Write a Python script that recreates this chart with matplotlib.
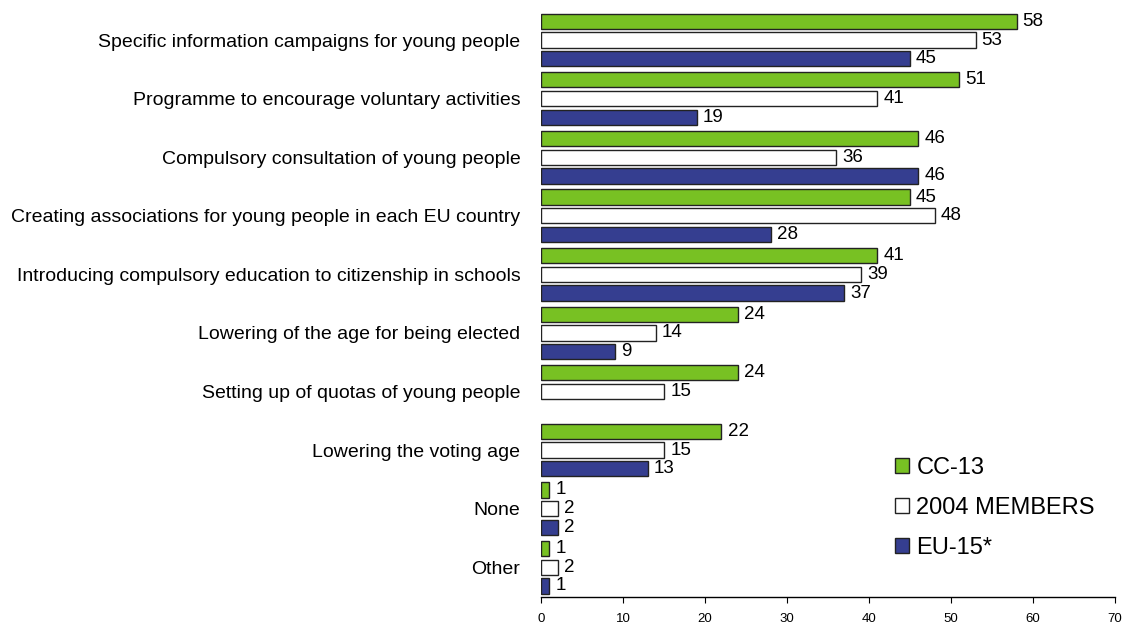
import numpy as np
import matplotlib
matplotlib.use("Agg")
import matplotlib.pyplot as plt
from matplotlib.patches import Patch

plt.rcParams['font.family'] = ['Liberation Sans', 'DejaVu Sans']

# survey measures, top to bottom
measures = [
    "Specific information campaigns for young people",
    "Programme to encourage voluntary activities",
    "Compulsory consultation of young people",
    "Creating associations for young people in each EU country",
    "Introducing compulsory education to citizenship in schools",
    "Lowering of the age for being elected",
    "Setting up of quotas of young people",
    "Lowering the voting age",
    "None",
    "Other",
]
cc13 = [58, 51, 46, 45, 41, 24, 24, 22, 1, 1]
members_2004 = [53, 41, 36, 48, 39, 14, 15, 15, 2, 2]
eu15 = [45, 19, 46, 28, 37, 9, None, 13, 2, 1]  # no EU-15 figure for quotas

series = [
    ("CC-13", cc13, "#78c123"),
    ("2004 MEMBERS", members_2004, "#ffffff"),
    ("EU-15*", eu15, "#353e90"),
]

fig = plt.figure(figsize=(11.25, 6.23), dpi=100)
ax = fig.add_axes([0.481, 0.0425, 0.510, 0.945])

y = np.arange(len(measures))
step = 0.32
height = 0.26

for k, (name, vals, color) in enumerate(series):
    pos = y + (k - 1) * step
    for yy, v in zip(pos, vals):
        if v is None:
            continue
        ax.barh(yy, v, height=height, color=color, edgecolor="#222222", linewidth=1.0)
        ax.text(v + 0.75, yy, str(v), va="center", ha="left", fontsize=13.5)

ax.set_xlim(0, 70)
ax.set_ylim(9.5, -0.55)
ax.set_xticks(np.arange(0, 71, 10))
ax.tick_params(axis="x", labelsize=9.5, length=4, direction="out", pad=8)
ax.set_yticks(y)
ax.set_yticklabels(measures, fontsize=14)
ax.tick_params(axis="y", length=0, pad=15)
for side in ("top", "right", "left"):
    ax.spines[side].set_visible(False)
ax.spines["bottom"].set_linewidth(1.0)

handles = [Patch(facecolor=c, edgecolor="#222222", linewidth=1.0, label=n)
           for n, _, c in series]
ax.legend(handles=handles, loc="upper left", bbox_to_anchor=(0.616, 0.237),
          frameon=False, fontsize=17, handlelength=0.62, handleheight=0.62,
          handletextpad=0.3, labelspacing=0.76, borderpad=0, borderaxespad=0)

fig.savefig("out.png", dpi=100)
